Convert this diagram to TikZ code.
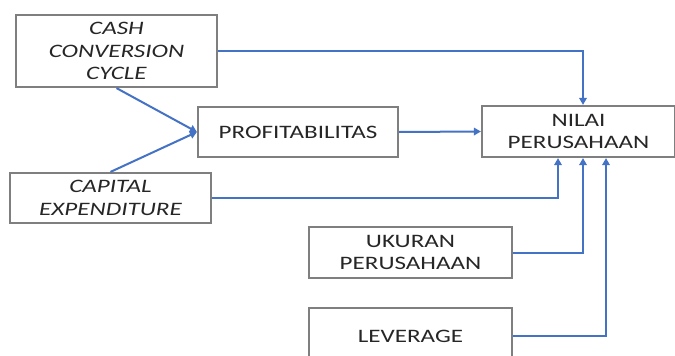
\documentclass[tikz,border=0pt]{standalone}
\usepackage{fontspec}
\setmainfont{Carlito}[FakeStretch=1.32]
\usetikzlibrary{arrows.meta}
\definecolor{boxgray}{HTML}{7F7F7F}
\definecolor{linkblue}{HTML}{4472C4}
\tikzset{
  box/.style={draw=boxgray, line width=2.2pt, inner sep=0pt, align=center,
    font=\fontsize{19}{22.5}\selectfont, text=black!85},
  conn/.style={draw=linkblue, line width=2pt,
    -{Triangle[width=7.5pt,length=7pt]}}
}
\begin{document}
\begin{tikzpicture}[x=1pt,y=-1pt]
\useasboundingbox (0,0) rectangle (675,356);
\node[box, minimum width=201pt, minimum height=72pt] (ccc) at (116.5,51)
  {\itshape CASH\\\itshape CONVERSION\\\itshape CYCLE};
\node[box, minimum width=200pt, minimum height=50pt] (prof) at (298,132) {PROFITABILITAS};
\node[box, minimum width=201pt, minimum height=50pt] (capex) at (110.5,198)
  {\itshape CAPITAL\\\itshape EXPENDITURE};
\node[box, minimum width=193pt, minimum height=51pt] (nilai) at (578.5,131.5)
  {NILAI\\PERUSAHAAN};
\node[box, minimum width=203pt, minimum height=51pt] (ukuran) at (410.5,252.5)
  {UKURAN\\PERUSAHAAN};
\node[box, minimum width=203pt, minimum height=56pt] (lev) at (410.5,336) {LEVERAGE};
\draw[conn] (ccc.east) -| ([xshift=4.5pt]nilai.north);
\draw[conn] (ccc.south) -- (prof.west);
\draw[conn] (capex.north) -- (prof.west);
\draw[conn] (prof.east) -- (nilai.west);
\draw[conn] (capex.east) -| ([xshift=-20.5pt]nilai.south);
\draw[conn] (ukuran.east) -| ([xshift=4.5pt]nilai.south);
\draw[conn] (lev.east) -| ([xshift=27.5pt]nilai.south);
\end{tikzpicture}
\end{document}
